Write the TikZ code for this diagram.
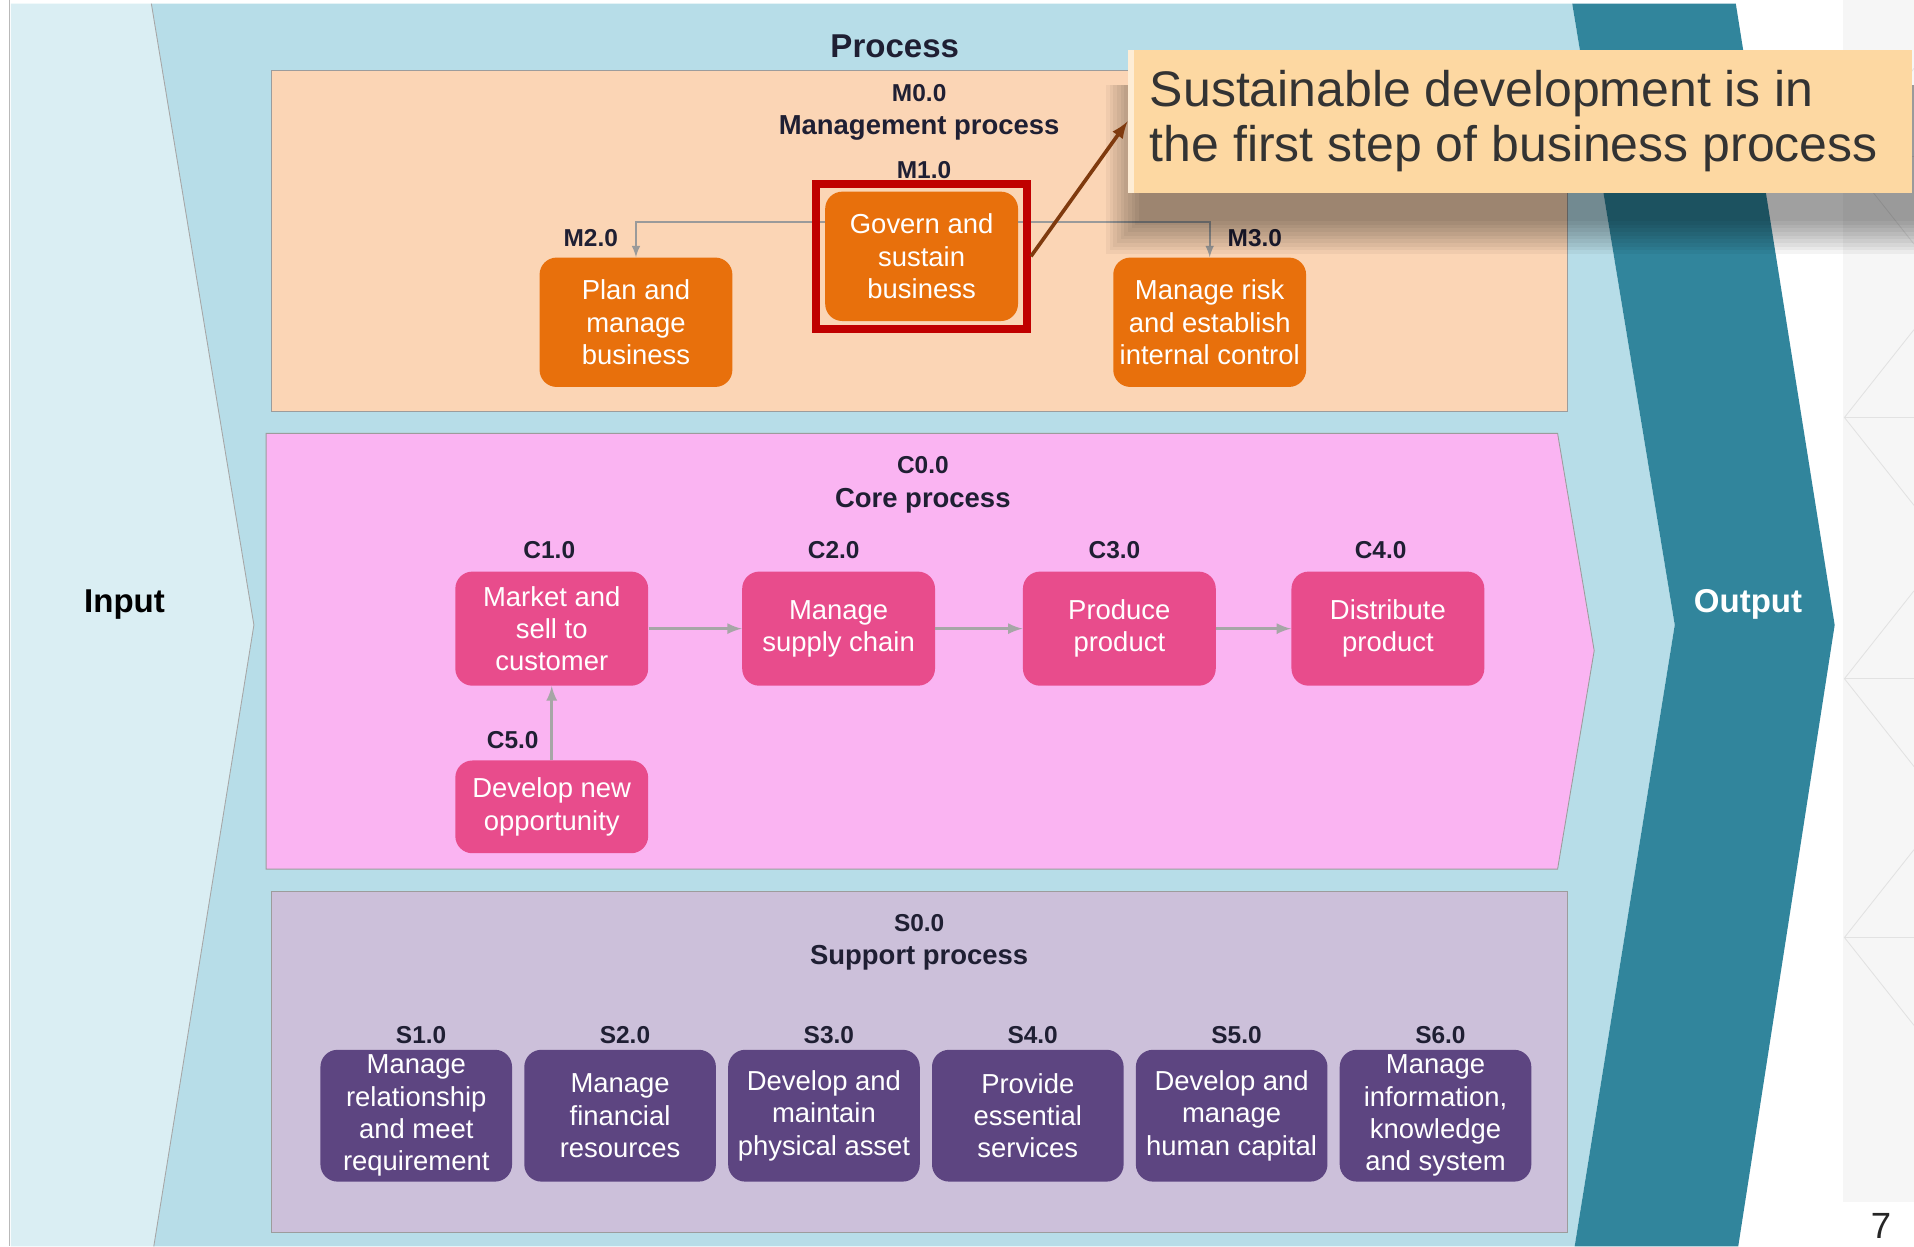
\documentclass[tikz,border=0pt]{standalone}
\usepackage{fontspec}
\setmainfont{Liberation Sans}
\usetikzlibrary{fit}
\definecolor{inlight}{HTML}{DAEEF3}
\definecolor{procblue}{HTML}{B7DDE8}
\definecolor{outteal}{HTML}{31859C}
\definecolor{mgpeach}{HTML}{FBD5B5}
\definecolor{mgorange}{HTML}{E8700C}
\definecolor{corepink}{HTML}{FAB4F2}
\definecolor{corebox}{HTML}{E84C8C}
\definecolor{suplav}{HTML}{CCC0DA}
\definecolor{supbox}{HTML}{5D4581}
\definecolor{labeltxt}{HTML}{1F1F33}
\definecolor{framegray}{HTML}{9C9C9C}
\definecolor{mgline}{HTML}{9A9A9A}
\definecolor{clinkc}{HTML}{A6A6A6}
\definecolor{hired}{HTML}{C00000}
\definecolor{notefill}{HTML}{FDD8A2}
\definecolor{arrbrown}{HTML}{7F3A0E}
\definecolor{colbg}{HTML}{F6F6F6}
\definecolor{hexline}{HTML}{E2E2E2}

\begin{document}
\begin{tikzpicture}[x=0.02cm,y=-0.02cm,>=latex,
  every node/.style={text=labeltxt},
  idtag/.style={font=\fontsize{11.4}{13}\selectfont\bfseries},
  sectitle/.style={font=\fontsize{12.8}{15}\selectfont\bfseries},
  bigtitle/.style={font=\fontsize{15.4}{18}\selectfont\bfseries},
  procbox/.style={rectangle,rounded corners=0.28cm,minimum width=3.16cm,minimum height=2.12cm,
    inner sep=0pt,align=center,text=white,font=\fontsize{12.8}{15.1}\selectfont},
  mbox/.style={procbox,fill=mgorange},
  cbox/.style={procbox,fill=corebox,minimum height=1.87cm},
  sbox/.style={procbox,fill=supbox,minimum width=3.14cm,minimum height=2.16cm},
  mlink/.style={->,draw=mgline,line width=0.8pt},
  clink/.style={->,draw=clinkc,line width=1.3pt}]
\useasboundingbox (0,0) rectangle (1568,1021);
\fill[white] (0,0) rectangle (1568,1021);
\fill[colbg] (1510,0) rectangle (1568,985);
\draw[hexline] (1568,56) -- (1511,128) -- (1568,200);
\draw[hexline] (1568,270) -- (1511,342) -- (1568,414);
\draw[hexline] (1568,484) -- (1511,556) -- (1568,628);
\draw[hexline] (1568,696) -- (1511,768) -- (1568,840);
\draw[hexline] (1511,128) -- (1568,128);
\draw[hexline] (1511,342) -- (1568,342);
\draw[hexline] (1511,556) -- (1568,556);
\draw[hexline] (1511,768) -- (1568,768);
\draw[gray!55] (8,0) -- (8,1021);

\fill[inlight] (9,3) -- (124,3) -- (208,512) -- (126,1021) -- (9,1021) -- cycle;
\fill[procblue] (124,3) -- (1288,3) -- (1372,512) -- (1290,1021) -- (126,1021) -- (208,512) -- cycle;
\draw[gray!70] (124,3) -- (208,512) -- (126,1021);
\fill[outteal] (1288,3) -- (1422,3) -- (1503,512) -- (1424,1021) -- (1290,1021) -- (1372,512) -- cycle;

\filldraw[fill=mgpeach,draw=framegray] (222,58) rectangle (1284,337);
\filldraw[fill=corepink,draw=framegray] (218,355) -- (1276,355) -- (1306,533) -- (1276,712) -- (218,712) -- cycle;
\filldraw[fill=suplav,draw=framegray] (222,730) rectangle (1284,1010);

\node[bigtitle] (proc) at (733,38) {Process};
\node[bigtitle,text=black] (inp) at (102,495) {Input};
\node[bigtitle,text=white] (outp) at (1432,495) {Output};

\node[idtag]    (m0)  at (753,76)  {M0.0};
\node[sectitle] (mt)  at (753,105) {Management process};
\node[idtag]    (m1l) at (757,139) {M1.0};
\node[mbox] (m1) at (755,210) {Govern and\\sustain\\business};
\node[mbox] (m2) at (521,264) {Plan and\\manage\\business};
\node[mbox] (m3) at (991,264) {Manage risk\\and establish\\internal control};
\node[idtag] (m2l) at (484,195) {M2.0};
\node[idtag] (m3l) at (1028,195) {M3.0};
\coordinate (mj) at (0,182);
\draw[mlink] (m1.west |- mj) -| (m2.north);
\draw[mlink] (m1.east |- mj) -| (m3.north);

\node[idtag]    (c0)  at (756,381) {C0.0};
\node[sectitle] (ct)  at (756,410) {Core process};
\node[cbox] (c1) at (452,515) {Market and\\sell to\\customer};
\node[cbox] (c2) at (687,515) {Manage\\supply chain};
\node[cbox] (c3) at (917,515) {Produce\\product};
\node[cbox] (c4) at (1137,515) {Distribute\\product};
\node[cbox,minimum height=1.52cm] (c5) at (452,661) {Develop new\\opportunity};
\node[idtag] (c1l) at (450,451)  {C1.0};
\node[idtag] (c2l) at (683,451)  {C2.0};
\node[idtag] (c3l) at (913,451)  {C3.0};
\node[idtag] (c4l) at (1131,451) {C4.0};
\node[idtag] (c5l) at (420,606)  {C5.0};
\draw[clink] (c1) -- (c2);
\draw[clink] (c2) -- (c3);
\draw[clink] (c3) -- (c4);
\draw[clink] (c5) -- (c1);

\node[idtag]    (s0) at (753,756) {S0.0};
\node[sectitle] (st) at (753,785) {Support process};
\node[sbox] (s1) at (341,914)  {Manage\\relationship\\and meet\\requirement};
\node[sbox] (s2) at (508,914)  {Manage\\financial\\resources};
\node[sbox] (s3) at (675,914)  {Develop and\\maintain\\physical asset};
\node[sbox] (s4) at (842,914)  {Provide\\essential\\services};
\node[sbox] (s5) at (1009,914) {Develop and\\manage\\human capital};
\node[sbox] (s6) at (1176,914) {Manage\\information,\\knowledge\\and system};
\node[idtag] (s1l) at (345,848)  {S1.0};
\node[idtag] (s2l) at (512,848)  {S2.0};
\node[idtag] (s3l) at (679,848)  {S3.0};
\node[idtag] (s4l) at (846,848)  {S4.0};
\node[idtag] (s5l) at (1013,848) {S5.0};
\node[idtag] (s6l) at (1180,848) {S6.0};

\node[fit=(m1),draw=hired,line width=3.7pt,inner xsep=0.14cm,inner ysep=0.12cm] (mark) {};

\foreach \k in {3,6,...,30}
  \fill[black,opacity=0.045] (936-\k,70) rectangle (1570+\k,178+\k);
\node[rectangle,fill=notefill,minimum width=12.84cm,minimum height=2.34cm,inner xsep=0.36cm,
  text width=12.12cm,align=flush left,text=black!80,font=\fontsize{23.3}{25.6}\selectfont]
  (note) at (1245,99.5) {Sustainable development is in\\the~first~step~of~business~process};
\fill[white,opacity=0.55] (note.north west) rectangle ([xshift=0.1cm]note.south west);
\draw[->,draw=arrbrown,line width=1.7pt] (mark.east) -- (note.west);

\fill[white] (1510,985) rectangle (1568,1021);
\node[font=\fontsize{17}{20}\selectfont,text=black!85] (pg) at (1541,1004) {7};
\end{tikzpicture}
\end{document}
